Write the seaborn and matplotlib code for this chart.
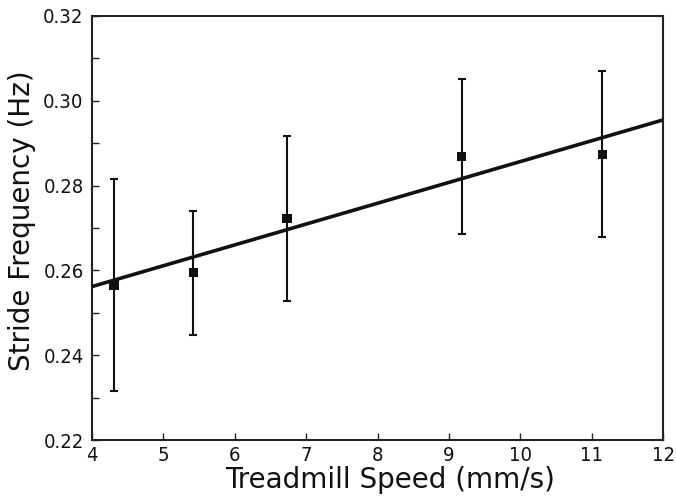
import numpy as np
import matplotlib.pyplot as plt
import seaborn as sns
from matplotlib.ticker import MultipleLocator

sns.set_style("ticks")
plt.rcParams['font.family'] = ['Liberation Sans', 'DejaVu Sans']

# measured points (treadmill speed vs stride frequency)
speed = [4.31, 5.42, 6.73, 9.18, 11.15]
freq = [0.2566, 0.2595, 0.2723, 0.2868, 0.2874]
err_top = [0.2816, 0.2740, 0.2918, 0.3051, 0.3070]
err_bottom = [0.2316, 0.2449, 0.2528, 0.2685, 0.2678]

# fitted line endpoints
fit_x = [4, 12]
fit_y = [0.2562, 0.2955]

fig = plt.figure(figsize=(6.76, 4.99), dpi=100)
ax = fig.add_axes([0.136, 0.118, 0.845, 0.850])

lower = np.array(freq) - np.array(err_bottom)
upper = np.array(err_top) - np.array(freq)
ax.errorbar(speed, freq, yerr=[lower, upper], fmt="none", ecolor="#111111",
            elinewidth=1.5, capsize=3, capthick=1.5, zorder=2)
sns.lineplot(x=fit_x, y=fit_y, ax=ax, color="#111111", linewidth=2.6, zorder=3)
sns.scatterplot(x=speed, y=freq, ax=ax, marker="s", s=45, color="#111111",
                edgecolor="none", zorder=4)

ax.set_xlim(4, 12)
ax.set_ylim(0.22, 0.32)
ax.xaxis.set_major_locator(MultipleLocator(1))
ax.yaxis.set_major_locator(MultipleLocator(0.02))
ax.yaxis.set_minor_locator(MultipleLocator(0.01))
ax.yaxis.set_major_formatter(plt.FormatStrFormatter("%.2f"))

ax.tick_params(which="both", direction="in", length=5, width=1.0, color="#222222",
               labelsize=14.5, labelcolor="#111111")
ax.tick_params(axis="x", pad=4)
ax.tick_params(axis="y", pad=6)
for lab in ax.get_xticklabels() + ax.get_yticklabels():
    lab.set_family("DejaVu Sans")
    lab.set_stretch("condensed")

for sp in ax.spines.values():
    sp.set_linewidth(1.5)
    sp.set_color("#222222")

ax.set_xlabel("Treadmill Speed (mm/s)", fontsize=20, labelpad=1, color="#111111",
              x=0.522, family="DejaVu Sans")
ax.set_ylabel("Stride Frequency (Hz)", fontsize=20, labelpad=5, color="#111111",
              y=0.518, family="DejaVu Sans")

fig.savefig("out.png", dpi=100)
